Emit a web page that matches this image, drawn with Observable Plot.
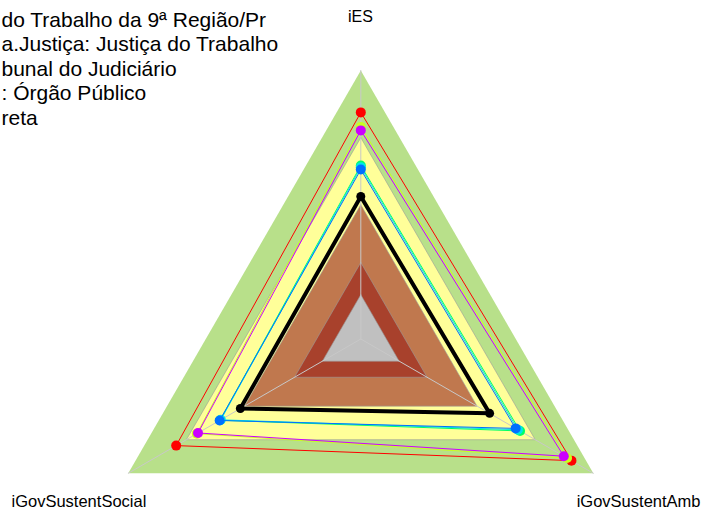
<!DOCTYPE html>
<html><head><meta charset="utf-8">
<script src="https://cdn.jsdelivr.net/npm/d3@7"></script>
<script src="https://cdn.jsdelivr.net/npm/@observablehq/plot@0.6"></script>
<style>body{margin:0;background:#fff;overflow:hidden}svg{display:block}</style>
</head><body><div id="chart"></div>
<script>
// Axes of the radar (top, bottom-right, bottom-left)
const axes = ["iES", "iGovSustentAmb", "iGovSustentSocial"];
// Header text (as visible, cut at the left edge)
const headerLines = [
  "do Trabalho da 9ª Região/Pr",
  "a.Justiça: Justiça do Trabalho",
  "bunal do Judiciário",
  ": Órgão Público",
  "reta"
];
// Background bands (outer limit of each band, share of full scale)
const bandLevels = [1.0, 0.75, 0.5, 0.285, 0.165];
const bandColors = ["#b8e08a", "#ffff99", "#c0784e", "#a8412c", "#c0c0c0"];
// Series values, in axis order [iES, iGovSustentAmb, iGovSustentSocial]
const seriesNames = ["A", "B", "C", "D", "E", "F", "G"];
const valuesA = [0.844, 0.906, 0.794];
const valuesB = [0.790, 0.887, 0.705];
const valuesC = [0.646, 0.685, 0.605];
const valuesD = [0.640, 0.676, 0.602];
const valuesE = [0.631, 0.666, 0.607];
const valuesF = [0.777, 0.873, 0.700];
const valuesG = [0.531, 0.554, 0.518];
const seriesValues = [valuesA, valuesB, valuesC, valuesD, valuesE, valuesF, valuesG];
const seriesColors = ["#ff0000", "#c8ff20", "#00ff66", "#00e6e6", "#0070ff", "#cc00ff", "#000000"];

const angles = [90, -30, 210].map(d => d * Math.PI / 180);
const polar = (r, i) => ({x: r * Math.cos(angles[i]), y: r * Math.sin(angles[i])});
const ring = (vals) => [...vals.map((v, i) => polar(v, i)), polar(vals[0], 0)];

const bandMarks = bandLevels.map((lv, i) =>
  Plot.line(ring([lv, lv, lv]), {x: "x", y: "y", fill: bandColors[i], stroke: i === 0 ? "none" : "#9a9a9a", strokeWidth: 0.6})
);
const spokes = axes.flatMap((a, i) => [{axis: a, ...polar(0, i)}, {axis: a, ...polar(1, i)}]);

const seriesLines = seriesNames.map((s, k) =>
  Plot.line(ring(seriesValues[k]), {x: "x", y: "y", stroke: seriesColors[k], strokeWidth: k === 6 ? 4 : 1})
);
const seriesDots = seriesNames.map((s, k) =>
  Plot.dot(seriesValues[k].map((v, i) => polar(v, i)), {x: "x", y: "y", fill: seriesColors[k], r: k === 6 ? 4.5 : 5})
);
const order = [0, 1, 2, 3, 4, 5, 6];
const seriesMarks = order.flatMap(k => [seriesLines[k], seriesDots[k]]);

const R = 268.5, cx = 360.3, cy = 338.5, W = 702, H = 511;
const chart = Plot.plot({
  width: W, height: H, margin: 0,
  x: {domain: [-cx / R, (W - cx) / R], axis: null},
  y: {domain: [-(H - cy) / R, cy / R], axis: null},
  style: {fontFamily: "'Liberation Sans', Arial, sans-serif", background: "white", color: "black"},
  marks: [
    ...bandMarks,
    Plot.line(spokes, {x: "x", y: "y", z: "axis", stroke: "#c8c8c8", strokeWidth: 1}),
    ...seriesMarks,
    Plot.text([headerLines.join("\n")], {frameAnchor: "top-left", textAnchor: "start", lineAnchor: "top", fontSize: 21, lineHeight: 1.167, dx: 1, dy: 9, fill: "black"}),
    Plot.text([axes[0]], {frameAnchor: "top", lineAnchor: "top", fontSize: 16, dx: 9, dy: 10, fill: "black"}),
    Plot.text([axes[2]], {frameAnchor: "bottom-left", textAnchor: "start", lineAnchor: "bottom", fontSize: 16.5, dx: 11, dy: -5, fill: "black"}),
    Plot.text([axes[1]], {frameAnchor: "bottom-right", textAnchor: "end", lineAnchor: "bottom", fontSize: 16.5, dx: -2, dy: -5, fill: "black"})
  ]
});
document.getElementById("chart").appendChild(chart);
</script></body></html>
